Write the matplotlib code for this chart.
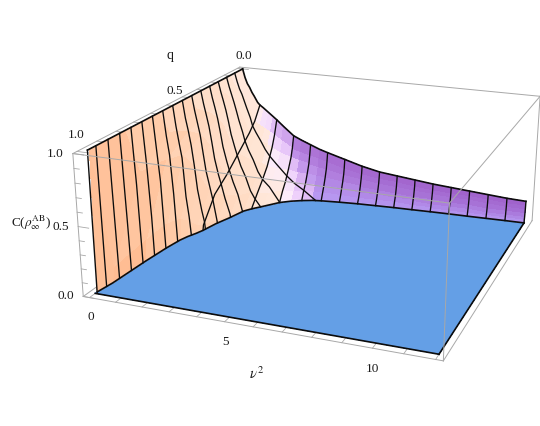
import numpy as np
import matplotlib
matplotlib.use('Agg')
import matplotlib.pyplot as plt
from matplotlib.colors import LinearSegmentedColormap, to_rgb
from mpl_toolkits.mplot3d import proj3d

plt.rcParams['font.family'] = ['Liberation Serif', 'DejaVu Serif']
plt.rcParams['mathtext.fontset'] = 'stix'

# v^2 columns
v2_cols = [0, .1, .2, .3, .4, .5, .65, .75, .9, 1.1, 1.3, 1.5, 1.8, 2.25, 2.6, 3, 3.4, 3.75, 4.5, 5.25, 6, 6.75, 7.5, 8.25, 9, 9.75, 10.5, 11.25, 12]
# q where the concurrence reaches zero, one per column
zero_q = [.98, .91, .735, .62, .55, .515, .48, .45, .38, .32, .245, .215, .18, .125, .10, .08, .065, .058, .048, .04, .035, .03, .027, .023, .02, .018, .015, .012, .01]
# fraction of zero_q at which each column of C below is read
q_frac = [0, .1, .2, .4, .6, .8, .99, 1]
conc = [
    [1, 1, 1, 1, 1, 1, 1, 0],
    [.93, .93, .92, .89, .83, .66, .10, 0],
    [.88, .87, .86, .82, .77, .65, .15, 0],
    [.85, .83, .80, .75, .70, .62, .18, 0],
    [.81, .78, .74, .66, .59, .50, .16, 0],
    [.78, .73, .68, .56, .47, .38, .12, 0],
    [.73, .66, .60, .47, .36, .27, .06, 0],
    [.71, .60, .53, .42, .31, .22, .04, 0],
    [.69, .57, .49, .37, .27, .17, .02, 0],
    [.66, .54, .45, .33, .23, .13, .02, 0],
    [.63, .51, .42, .29, .20, .11, .02, 0],
    [.60, .48, .39, .26, .17, .09, .01, 0],
    [.55, .44, .35, .24, .16, .08, .01, 0],
    [.48, .38, .31, .22, .14, .08, .01, 0],
    [.45, .36, .29, .20, .13, .07, .01, 0],
    [.42, .34, .27, .19, .12, .07, .01, 0],
    [.39, .32, .25, .18, .11, .06, .01, 0],
    [.37, .30, .24, .17, .11, .06, .01, 0],
    [.33, .26, .21, .15, .10, .05, .01, 0],
    [.29, .23, .19, .13, .08, .04, .01, 0],
    [.26, .21, .17, .12, .08, .04, .01, 0],
    [.245, .20, .16, .11, .07, .04, .005, 0],
    [.23, .18, .15, .10, .07, .03, .005, 0],
    [.215, .17, .14, .10, .06, .03, .005, 0],
    [.205, .16, .13, .09, .06, .03, .005, 0],
    [.195, .16, .13, .09, .06, .03, .005, 0],
    [.185, .15, .12, .08, .05, .03, .005, 0],
    [.175, .14, .11, .08, .05, .03, .005, 0],
    [.17, .14, .11, .08, .05, .03, .005, 0],
]
v2_ticks = [0, 5, 10]
q_ticks = [0.0, 0.5, 1.0]
c_ticks = [0.0, 0.5, 1.0]

W, H, S = 540, 427, 700
box_x = (-.24, 12.24)
box_y = (1.02, -.02)
aspect = (.4865, .4886, .1957)
GRAY = '#a8a8a8'
BLACK = '#0c0c0c'
INK = '#1a1a1a'

fig = plt.figure(figsize=(W/100, H/100), dpi=100)
ax = fig.add_axes([-34.19/W, -123.88/H, S/W, S/H], projection='3d', computed_zorder=False)
ax.set_xlim(*box_x)
ax.set_ylim(*box_y)
ax.set_zlim(0, 1)
ax.view_init(19.6032, -68.6909, -0.1044)
ax.set_proj_type('persp', focal_length=0.3146)
ax.set_box_aspect(aspect, zoom=np.linalg.norm(aspect))
ax.set_xticks([])
ax.set_yticks([])
ax.set_zticks([])
ax.set_axis_off()

V = np.tile(np.array(v2_cols)[:, None], (1, len(q_frac)))
Q = np.array(zero_q)[:, None] * np.array(q_frac)[None, :]
C = np.array(conc, float)

# colour each cell from the way its face points (orange to the v side, purple to the q side)
tone = LinearSegmentedColormap.from_list('tone', [
    (0, '#ffb88c'), (.2, '#ffcfae'), (.4, '#ffe6d6'), (.55, '#fdeefa'),
    (.7, '#eccdfb'), (.85, '#c08fe6'), (1, '#a063cc')])
sx = aspect[0]/(box_x[1]-box_x[0])
sy = aspect[1]/(box_y[0]-box_y[1])
colors = np.zeros((C.shape[0]-1, C.shape[1]-1, 4))
for i in range(C.shape[0]-1):
    for j in range(C.shape[1]-1):
        d1 = np.array([(V[i+1, j+1]-V[i, j])*sx, (Q[i+1, j+1]-Q[i, j])*sy, (C[i+1, j+1]-C[i, j])*aspect[2]])
        d2 = np.array([(V[i+1, j]-V[i, j+1])*sx, (Q[i+1, j]-Q[i, j+1])*sy, (C[i+1, j]-C[i, j+1])*aspect[2]])
        n = np.cross(d1, d2)
        if n[2] < 0:
            n = -n
        ang = np.arctan2(abs(n[1]), abs(n[0])) / (np.pi/2)
        ang = max(ang, .42*(1-Q[i, j]))
        rgb = np.array(tone(ang)[:3])
        if ang > .8:
            rgb = rgb + (np.array(to_rgb('#b79cf5'))-rgb) * q_frac[j]
        colors[i, j, :3] = rgb
        colors[i, j, 3] = 1

# box edges that sit behind the surface
def edge(a, b, z):
    ax.plot([a[0], b[0]], [a[1], b[1]], [a[2], b[2]], color=GRAY, lw=.7, zorder=z)

x0, x1 = box_x
y1, y0 = box_y
edge((x0, y0, 1), (x1, y0, 1), 0)
edge((x1, y0, 1), (x1, y0, 0), 0)
edge((x0, y1, 0), (x0, y0, 0), 0)
edge((x1, y1, 0), (x1, y0, 0), 0)
edge((x0, y1, 0), (x1, y1, 0), 0)
edge((x0, y1, 1), (x0, y0, 1), 0)
edge((x0, y1, 0), (x0, y1, 1), 0)

ax.plot_surface(V[:, [-1, -1]], np.c_[zero_q, np.full(len(zero_q), .99)], 0*V[:, [0, 0]], color='#649fe6',
                shade=False, linewidth=0, antialiased=False, rstride=1, cstride=1, zorder=1)
ax.plot_surface(V, Q, C, facecolors=colors, shade=False, linewidth=0, antialiased=False,
                rstride=1, cstride=1, zorder=2)

# mesh, constant v^2
for vm in np.arange(.75, 12, .75):
    i = int(np.argmin(abs(np.array(v2_cols)-vm)))
    ax.plot(V[i], Q[i], C[i], color=BLACK, lw=.95, zorder=3)
# mesh, constant q
for qm in np.arange(1, 16)/16:
    xs, zs = [], []
    for i in range(len(v2_cols)):
        if zero_q[i] > qm:
            xs.append(v2_cols[i])
            zs.append(np.interp(qm, Q[i], C[i]))
        else:
            t = (zero_q[i-1]-qm)/(zero_q[i-1]-zero_q[i])
            xs.append(v2_cols[i-1]+t*(v2_cols[i]-v2_cols[i-1]))
            zs.append(0)
            break
    ax.plot(xs, [qm]*len(xs), zs, color=BLACK, lw=.95, zorder=3)

# outline of the surface
ax.plot(V[:, 0], Q[:, 0], C[:, 0], color=BLACK, lw=1.2, zorder=4)
ax.plot(V[:, -1], Q[:, -1], 0*C[:, -1], color=BLACK, lw=1.2, zorder=4)
ax.plot([0, 0], [0, zero_q[0]], [1, 1], color=BLACK, lw=1.2, zorder=4)
ax.plot([0, 0], [zero_q[0], zero_q[0]], [1, 0], color=BLACK, lw=1, zorder=4)
ax.plot([0, 12], [.99, .99], [0, 0], color=BLACK, lw=1.2, zorder=4)
ax.plot([12, 12], [.99, zero_q[-1]], [0, 0], color=BLACK, lw=1.2, zorder=4)
ax.plot(V[-1], Q[-1], C[-1], color=BLACK, lw=1, zorder=4)

# box edges in front of the surface
edge((x0, y1, 1), (x1, y1, 1), 5)
edge((x1, y1, 1), (x1, y0, 1), 5)
edge((x1, y1, 0), (x1, y1, 1), 5)

# ticks
for v in range(0, 13):
    ln = .05 if v % 5 == 0 else .025
    ax.plot([v, v], [y1, y1-ln], [0, 0], color=GRAY, lw=.6, zorder=0)
for q in np.arange(0, 1.01, .1):
    ln = .5 if abs(q*10 % 5) < 1e-6 else .25
    ax.plot([x0, x0+ln], [q, q], [1, 1], color=GRAY, lw=.6, zorder=0)
for c in np.arange(0, 1.01, .1):
    ln = .4 if abs(c*10 % 5) < 1e-6 else .2
    ax.plot([x0, x0+ln], [y1, y1], [c, c], color=GRAY, lw=.6, zorder=0)

# text goes through the camera by hand so it ends up as plain 2D text
M = ax.get_proj()
def label(x, y, z, s, fs=9.5):
    px, py, _ = proj3d.proj_transform(x, y, z, M)
    ax.text2D(px, py, s, transform=ax.transData, ha='center', va='center', fontsize=fs, color=INK)

for v in v2_ticks:
    label(v, y1, -.135, str(v))
for q, dx in zip(q_ticks, [.3, .35, 0]):
    label(x0+dx, q, 1.12, f'{q:.1f}')
for c in c_ticks:
    label(-.91, y1, c-.015, f'{c:.1f}')
label(x0, .47, 1.36, 'q', 10)
label(-2.05, y1, .485, r'C($\rho_{\infty}^{\mathrm{AB}}$)')
label(6.1, y1, -.32, r'$\nu^2$', 10.5)

fig.savefig('out.png', dpi=100)
